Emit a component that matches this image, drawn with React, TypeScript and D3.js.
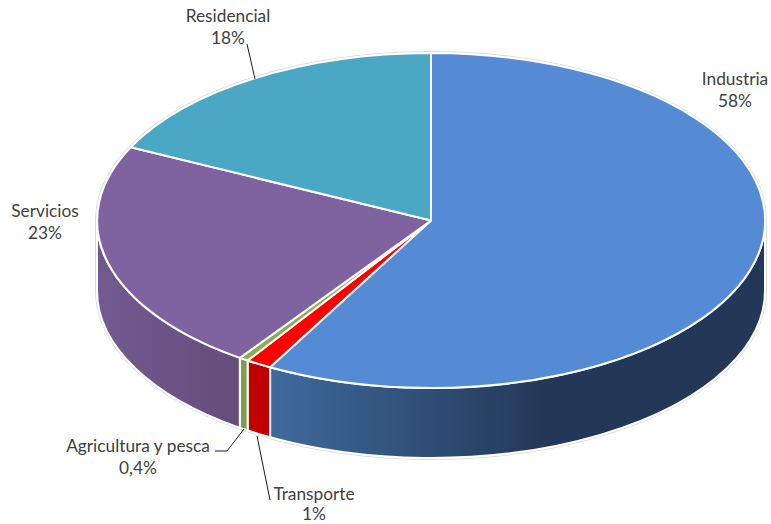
import React from "react";
import * as d3 from "d3";

const categories = ["Industria", "Transporte", "Agricultura y pesca", "Servicios", "Residencial"];
const sliceValues = [58.0, 1.25, 0.45, 22.5, 17.8];
const valueLabels = ["58%", "1%", "0,4%", "23%", "18%"];
const topColors = ["#558AD4", "#FF0000", "#8BAB55", "#7F62A0", "#4BA8C4"];
const wallStops = [
  [["0", "#3F6A9C"], ["0.56", "#233858"], ["1", "#233858"]],
  [["0", "#C00000"], ["1", "#C00000"]],
  [["0", "#7F9F4E"], ["1", "#7F9F4E"]],
  [["0", "#735A91"], ["1", "#634D7B"]],
  [["0", "#4BA8C4"], ["1", "#4BA8C4"]],
];
const labelCenters = [[735, 79], [314, 494], [138, 446], [45, 211], [228, 16]];
const lineGaps = [22, 20.5, 22, 22, 22];
const leaders = [
  [],
  [[270, 500], [257, 436]],
  [[215, 451], [227, 451], [244, 429]],
  [],
  [[247, 44], [255, 79]],
];

const cx = 431, cy = 220.5, rx = 334, ry = 167.5, depth = 70;

const pieGen = d3.pie<number>().value((d) => d).sort(null).startAngle(0).endAngle(2 * Math.PI);
const arcs = pieGen(sliceValues);
const arcGen = d3.arc<d3.PieArcDatum<number>>().innerRadius(0).outerRadius(1);
const px = (a: number) => cx + rx * Math.sin(a);
const py = (a: number) => cy - ry * Math.cos(a);
const leaderLine = d3.line();

function wallPath(a0: number, a1: number) {
  const s = Math.max(a0, Math.PI / 2), e = Math.min(a1, (3 * Math.PI) / 2);
  if (e <= s) return null;
  return { x0: px(s), x1: px(e), d: `M${px(s)},${py(s)}A${rx},${ry} 0 0 1 ${px(e)},${py(e)}L${px(e)},${py(e) + depth}A${rx},${ry} 0 0 0 ${px(s)},${py(s) + depth}Z` };
}

export default function App() {
  return (
    <svg width={771} height={524} style={{ position: "absolute", left: 0, top: 0, background: "#fff" }}>
      <defs>
        {arcs.map((a, i) => {
          const w = wallPath(a.startAngle, a.endAngle);
          if (!w) return null;
          return (
            <linearGradient key={i} id={`wall${i}`} gradientUnits="userSpaceOnUse" x1={w.x1} x2={w.x0} y1={0} y2={0}>
              {wallStops[i].map(([o, c]) => <stop key={o} offset={o} stopColor={c} />)}
            </linearGradient>
          );
        })}
      </defs>
      <path
        d={`M${cx - rx - 1.5},${cy}A${rx + 1.5},${ry + 1.5} 0 0 1 ${cx + rx + 1.5},${cy}L${cx + rx + 1.5},${cy + depth}A${rx + 1.5},${ry + 1.5} 0 0 1 ${cx - rx - 1.5},${cy + depth}Z`}
        fill="#fff" stroke="#cfcfcf" strokeWidth={0.8}
      />
      {arcs.map((a, i) => {
        const w = wallPath(a.startAngle, a.endAngle);
        return w ? <path key={i} d={w.d} fill={`url(#wall${i})`} stroke="#fff" strokeWidth={2} /> : null;
      })}
      <g transform={`translate(${cx},${cy}) scale(${rx},${ry})`}>
        {arcs.map((a, i) => (
          <path key={i} d={arcGen(a) as string} fill={topColors[i]} stroke="#fff" strokeWidth={2} vectorEffect="non-scaling-stroke" strokeLinejoin="round" />
        ))}
      </g>
      {leaders.map((l, i) =>
        l.length ? <path key={i} d={leaderLine(l as [number, number][]) as string} fill="none" stroke="#1a1a1a" strokeWidth={1} /> : null
      )}
      {categories.map((c, i) => (
        <text key={c} textAnchor="middle" fontFamily="Lato, 'Open Sans', sans-serif" fontSize={17.3} fill="#404040">
          <tspan x={labelCenters[i][0]} y={labelCenters[i][1] + 5.5}>{c}</tspan>
          <tspan x={labelCenters[i][0]} y={labelCenters[i][1] + 5.5 + lineGaps[i]}>{valueLabels[i]}</tspan>
        </text>
      ))}
    </svg>
  );
}
